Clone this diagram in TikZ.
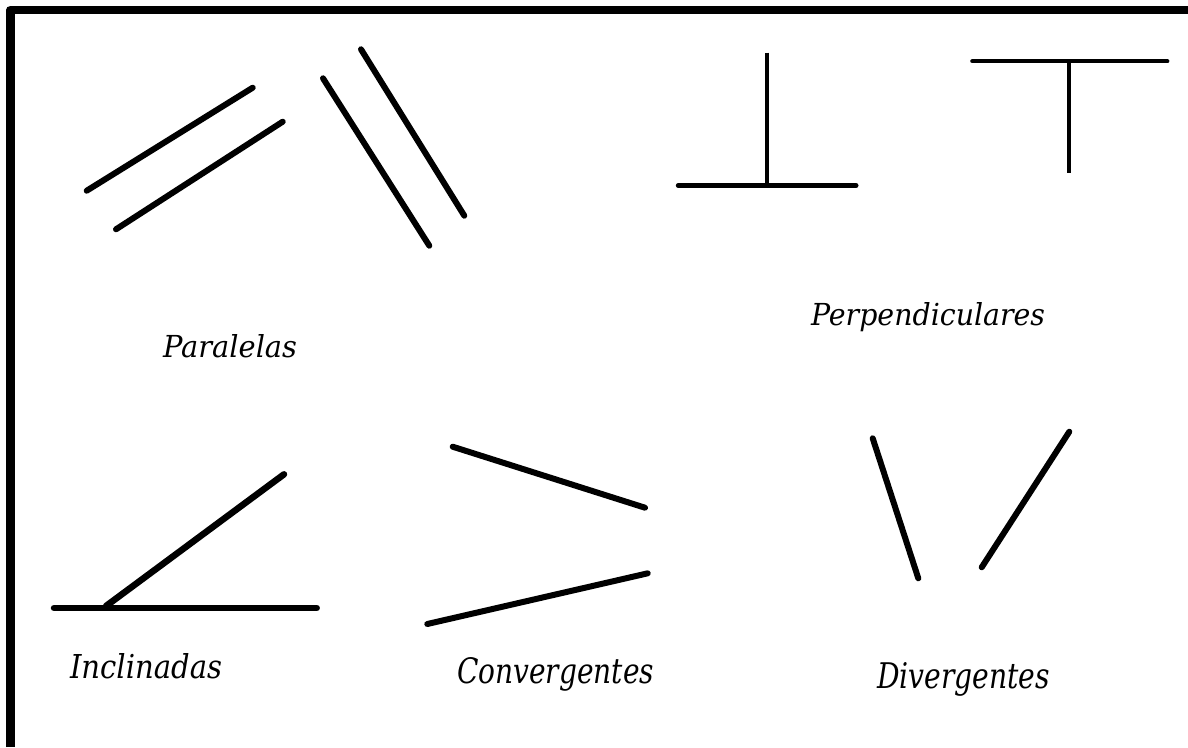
\documentclass[tikz,border=0pt]{standalone}
\usepackage{fontspec}
\setmainfont{DejaVu Serif}
\usepackage{graphicx}
\tikzset{
  seg/.style={line width=#1, line cap=round, black},
  seg/.default=6pt,
  lbl/.style={anchor=base west, inner sep=0pt, outer sep=0pt},
  frame/.style={line width=8.5pt, line join=round}
}
\newcommand{\lab}[3]{\resizebox{#1pt}{#2pt}{\itshape #3}}
\begin{document}
\begin{tikzpicture}[x=1pt, y=-1pt]
\useasboundingbox (0,0) rectangle (1188,747);
\fill[white] (0,0) rectangle (1188,747);
% frame
\coordinate (fb) at (10.3,747);
\coordinate (fc) at (10.3,10);
\coordinate (fr) at (1188,10);
\draw[frame] (fb) -- (fc) -- (fr);
% Paralelas
\coordinate (p1a) at (86.7,190.7);  \coordinate (p1b) at (252.7,87.7);
\coordinate (p2a) at (116,229.3);   \coordinate (p2b) at (282.7,121.7);
\coordinate (p3a) at (323,78.3);    \coordinate (p3b) at (429.3,245.7);
\coordinate (p4a) at (361,49.3);    \coordinate (p4b) at (464.3,215.7);
\draw[seg] (p1a) -- (p1b);
\draw[seg] (p2a) -- (p2b);
\draw[seg] (p3a) -- (p3b);
\draw[seg] (p4a) -- (p4b);
% Perpendiculares
\coordinate (q1a) at (678.3,185.5); \coordinate (q1b) at (856,185.5);
\coordinate (q1t) at (767.3,52.7);  \coordinate (q1f) at (767.3,185.5);
\draw[seg=5pt] (q1a) -- (q1b);
\draw[seg=4.2pt, line cap=butt] (q1t) -- (q1f);
\coordinate (q2a) at (972.3,61.3);  \coordinate (q2b) at (1167.3,61.3);
\coordinate (q2t) at (1069,61.3);   \coordinate (q2f) at (1069,172.5);
\draw[seg=4.2pt] (q2a) -- (q2b);
\draw[seg=4.2pt, line cap=butt] (q2t) -- (q2f);
% Inclinadas
\coordinate (i1a) at (54,608);      \coordinate (i1b) at (316.7,608);
\coordinate (i2a) at (106,606);     \coordinate (i2b) at (284,474.3);
\draw[seg=6.5pt] (i1a) -- (i1b);
\draw[seg=6.5pt] (i2a) -- (i2b);
% Convergentes
\coordinate (c1a) at (452.7,446.7); \coordinate (c1b) at (645,507.7);
\coordinate (c2a) at (427.3,624);   \coordinate (c2b) at (647.7,573.3);
\draw[seg] (c1a) -- (c1b);
\draw[seg] (c2a) -- (c2b);
% Divergentes
\coordinate (d1a) at (872.7,438.3); \coordinate (d1b) at (918.3,578.3);
\coordinate (d2a) at (981.7,567.3); \coordinate (d2b) at (1069.3,431.7);
\draw[seg] (d1a) -- (d1b);
\draw[seg] (d2a) -- (d2b);
% labels
\node[lbl] (tpar) at (163,357) {\lab{134}{23}{Paralelas}};
\node[lbl] (tper) at (811,325) {\lab{234}{23}{Perpendiculares}};
\node[lbl] (tinc) at (70,678) {\lab{152}{25}{Inclinadas}};
\node[lbl] (tcon) at (457,683) {\lab{197}{26}{Convergentes}};
\node[lbl] (tdiv) at (877,688) {\lab{173}{26}{Divergentes}};
\end{tikzpicture}
\end{document}
